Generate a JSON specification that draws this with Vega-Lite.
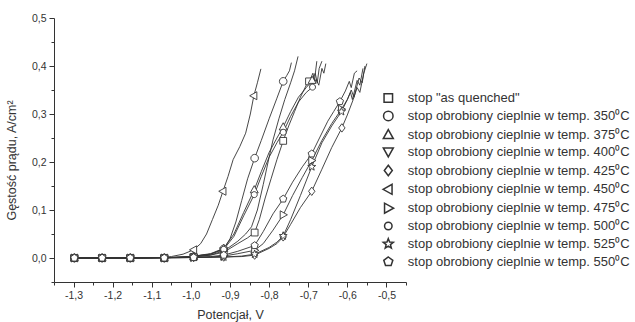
{
  "$schema": "https://vega.github.io/schema/vega-lite/v6.json",
  "width": 352,
  "height": 264,
  "autosize": {"type": "none"},
  "padding": {"left": 54, "top": 18, "right": 229, "bottom": 40},
  "config": {
    "view": {"stroke": null},
    "font": "Liberation Sans",
    "axis": {"grid": false, "domainColor": "#333", "tickColor": "#333", "labelColor": "#333", "titleColor": "#333", "labelFont": "Liberation Sans", "titleFont": "Liberation Sans", "titleFontWeight": "normal", "domainWidth": 1, "tickWidth": 1}
  },
  "datasets": {
    "curves": [
      {"s":"q","x":-1.305,"y":0},{"s":"q","x":-1.15,"y":0},{"s":"q","x":-1.05,"y":0.001},{"s":"q","x":-1.0,"y":0.002},{"s":"q","x":-0.95,"y":0.006},{"s":"q","x":-0.916,"y":0.012},{"s":"q","x":-0.88,"y":0.03},{"s":"q","x":-0.855,"y":0.042},{"s":"q","x":-0.837,"y":0.053},{"s":"q","x":-0.825,"y":0.08},{"s":"q","x":-0.81,"y":0.125},{"s":"q","x":-0.795,"y":0.165},{"s":"q","x":-0.78,"y":0.205},{"s":"q","x":-0.764,"y":0.244},{"s":"q","x":-0.75,"y":0.275},{"s":"q","x":-0.735,"y":0.305},{"s":"q","x":-0.72,"y":0.335},{"s":"q","x":-0.705,"y":0.36},{"s":"q","x":-0.695,"y":0.372},{"s":"q","x":-0.688,"y":0.385},{"s":"q","x":-0.684,"y":0.37},{"s":"q","x":-0.678,"y":0.41},
      {"s":"350","x":-1.305,"y":0},{"s":"350","x":-1.15,"y":0},{"s":"350","x":-1.05,"y":0.001},{"s":"350","x":-1.0,"y":0.003},{"s":"350","x":-0.95,"y":0.008},{"s":"350","x":-0.916,"y":0.019},{"s":"350","x":-0.9,"y":0.04},{"s":"350","x":-0.885,"y":0.075},{"s":"350","x":-0.87,"y":0.12},{"s":"350","x":-0.855,"y":0.165},{"s":"350","x":-0.837,"y":0.208},{"s":"350","x":-0.82,"y":0.245},{"s":"350","x":-0.8,"y":0.29},{"s":"350","x":-0.78,"y":0.333},{"s":"350","x":-0.764,"y":0.368},{"s":"350","x":-0.755,"y":0.38},{"s":"350","x":-0.748,"y":0.39},{"s":"350","x":-0.743,"y":0.407},
      {"s":"375","x":-1.305,"y":0},{"s":"375","x":-1.15,"y":0},{"s":"375","x":-1.05,"y":0.001},{"s":"375","x":-1.0,"y":0.003},{"s":"375","x":-0.95,"y":0.009},{"s":"375","x":-0.916,"y":0.02},{"s":"375","x":-0.89,"y":0.05},{"s":"375","x":-0.865,"y":0.095},{"s":"375","x":-0.838,"y":0.142},{"s":"375","x":-0.82,"y":0.18},{"s":"375","x":-0.8,"y":0.22},{"s":"375","x":-0.78,"y":0.25},{"s":"375","x":-0.764,"y":0.273},{"s":"375","x":-0.745,"y":0.305},{"s":"375","x":-0.725,"y":0.335},{"s":"375","x":-0.705,"y":0.355},{"s":"375","x":-0.69,"y":0.37},{"s":"375","x":-0.682,"y":0.385},{"s":"375","x":-0.677,"y":0.365},{"s":"375","x":-0.672,"y":0.395},{"s":"375","x":-0.665,"y":0.41},
      {"s":"400","x":-1.305,"y":0},{"s":"400","x":-1.15,"y":0},{"s":"400","x":-1.05,"y":0.001},{"s":"400","x":-1.0,"y":0.002},{"s":"400","x":-0.95,"y":0.006},{"s":"400","x":-0.913,"y":0.016},{"s":"400","x":-0.88,"y":0.035},{"s":"400","x":-0.86,"y":0.05},{"s":"400","x":-0.845,"y":0.065},{"s":"400","x":-0.83,"y":0.1},{"s":"400","x":-0.815,"y":0.153},{"s":"400","x":-0.8,"y":0.21},{"s":"400","x":-0.79,"y":0.246},{"s":"400","x":-0.775,"y":0.29},{"s":"400","x":-0.76,"y":0.33},{"s":"400","x":-0.745,"y":0.365},{"s":"400","x":-0.735,"y":0.39},{"s":"400","x":-0.726,"y":0.42},
      {"s":"425","x":-1.305,"y":0},{"s":"425","x":-1.15,"y":0},{"s":"425","x":-1.0,"y":0.001},{"s":"425","x":-0.916,"y":0.002},{"s":"425","x":-0.87,"y":0.003},{"s":"425","x":-0.837,"y":0.006},{"s":"425","x":-0.8,"y":0.02},{"s":"425","x":-0.78,"y":0.03},{"s":"425","x":-0.764,"y":0.044},{"s":"425","x":-0.745,"y":0.07},{"s":"425","x":-0.72,"y":0.105},{"s":"425","x":-0.691,"y":0.139},{"s":"425","x":-0.665,"y":0.185},{"s":"425","x":-0.64,"y":0.23},{"s":"425","x":-0.614,"y":0.271},{"s":"425","x":-0.6,"y":0.298},{"s":"425","x":-0.585,"y":0.33},{"s":"425","x":-0.575,"y":0.355},{"s":"425","x":-0.568,"y":0.345},{"s":"425","x":-0.558,"y":0.385},{"s":"425","x":-0.55,"y":0.405},
      {"s":"450","x":-1.305,"y":0},{"s":"450","x":-1.15,"y":0},{"s":"450","x":-1.08,"y":0.001},{"s":"450","x":-1.05,"y":0.003},{"s":"450","x":-1.02,"y":0.008},{"s":"450","x":-0.993,"y":0.017},{"s":"450","x":-0.975,"y":0.03},{"s":"450","x":-0.96,"y":0.05},{"s":"450","x":-0.945,"y":0.08},{"s":"450","x":-0.93,"y":0.11},{"s":"450","x":-0.918,"y":0.139},{"s":"450","x":-0.905,"y":0.17},{"s":"450","x":-0.892,"y":0.205},{"s":"450","x":-0.875,"y":0.232},{"s":"450","x":-0.86,"y":0.26},{"s":"450","x":-0.848,"y":0.3},{"s":"450","x":-0.839,"y":0.338},{"s":"450","x":-0.83,"y":0.365},{"s":"450","x":-0.821,"y":0.394},
      {"s":"475","x":-1.305,"y":0},{"s":"475","x":-1.15,"y":0},{"s":"475","x":-1.0,"y":0.001},{"s":"475","x":-0.95,"y":0.002},{"s":"475","x":-0.916,"y":0.004},{"s":"475","x":-0.88,"y":0.009},{"s":"475","x":-0.837,"y":0.016},{"s":"475","x":-0.815,"y":0.03},{"s":"475","x":-0.79,"y":0.058},{"s":"475","x":-0.764,"y":0.09},{"s":"475","x":-0.74,"y":0.13},{"s":"475","x":-0.715,"y":0.168},{"s":"475","x":-0.691,"y":0.203},{"s":"475","x":-0.665,"y":0.245},{"s":"475","x":-0.64,"y":0.28},{"s":"475","x":-0.615,"y":0.31},{"s":"475","x":-0.6,"y":0.33},{"s":"475","x":-0.592,"y":0.345},{"s":"475","x":-0.587,"y":0.33},{"s":"475","x":-0.575,"y":0.37},{"s":"475","x":-0.568,"y":0.36},{"s":"475","x":-0.56,"y":0.395},
      {"s":"500","x":-1.305,"y":0},{"s":"500","x":-1.15,"y":0},{"s":"500","x":-1.05,"y":0.001},{"s":"500","x":-1.0,"y":0.003},{"s":"500","x":-0.95,"y":0.008},{"s":"500","x":-0.916,"y":0.018},{"s":"500","x":-0.89,"y":0.045},{"s":"500","x":-0.865,"y":0.088},{"s":"500","x":-0.838,"y":0.132},{"s":"500","x":-0.82,"y":0.17},{"s":"500","x":-0.8,"y":0.21},{"s":"500","x":-0.78,"y":0.24},{"s":"500","x":-0.764,"y":0.262},{"s":"500","x":-0.745,"y":0.295},{"s":"500","x":-0.725,"y":0.325},{"s":"500","x":-0.705,"y":0.345},{"s":"500","x":-0.689,"y":0.356},{"s":"500","x":-0.68,"y":0.372},{"s":"500","x":-0.673,"y":0.36},{"s":"500","x":-0.665,"y":0.395},{"s":"500","x":-0.66,"y":0.385},{"s":"500","x":-0.655,"y":0.405},
      {"s":"525","x":-1.305,"y":0},{"s":"525","x":-1.15,"y":0},{"s":"525","x":-1.0,"y":0.001},{"s":"525","x":-0.916,"y":0.002},{"s":"525","x":-0.87,"y":0.004},{"s":"525","x":-0.837,"y":0.008},{"s":"525","x":-0.8,"y":0.022},{"s":"525","x":-0.78,"y":0.033},{"s":"525","x":-0.764,"y":0.046},{"s":"525","x":-0.745,"y":0.08},{"s":"525","x":-0.72,"y":0.13},{"s":"525","x":-0.691,"y":0.19},{"s":"525","x":-0.665,"y":0.24},{"s":"525","x":-0.64,"y":0.275},{"s":"525","x":-0.615,"y":0.305},{"s":"525","x":-0.6,"y":0.33},{"s":"525","x":-0.59,"y":0.35},{"s":"525","x":-0.583,"y":0.335},{"s":"525","x":-0.57,"y":0.375},{"s":"525","x":-0.562,"y":0.365},{"s":"525","x":-0.555,"y":0.4},
      {"s":"550","x":-1.305,"y":0},{"s":"550","x":-1.15,"y":0},{"s":"550","x":-1.0,"y":0.001},{"s":"550","x":-0.95,"y":0.003},{"s":"550","x":-0.916,"y":0.006},{"s":"550","x":-0.88,"y":0.014},{"s":"550","x":-0.837,"y":0.026},{"s":"550","x":-0.815,"y":0.055},{"s":"550","x":-0.79,"y":0.092},{"s":"550","x":-0.764,"y":0.123},{"s":"550","x":-0.74,"y":0.158},{"s":"550","x":-0.715,"y":0.19},{"s":"550","x":-0.691,"y":0.217},{"s":"550","x":-0.67,"y":0.252},{"s":"550","x":-0.65,"y":0.285},{"s":"550","x":-0.635,"y":0.305},{"s":"550","x":-0.619,"y":0.326},{"s":"550","x":-0.605,"y":0.348},{"s":"550","x":-0.595,"y":0.368},{"s":"550","x":-0.59,"y":0.355},{"s":"550","x":-0.582,"y":0.385},{"s":"550","x":-0.575,"y":0.39}
    ],
    "markers": [
      {"s":"q","x":-1.298,"y":0},{"s":"q","x":-1.227,"y":0},{"s":"q","x":-1.155,"y":0},{"s":"q","x":-1.068,"y":0},{"s":"q","x":-0.993,"y":0.002},{"s":"q","x":-0.916,"y":0.012},{"s":"q","x":-0.837,"y":0.053},{"s":"q","x":-0.764,"y":0.244},{"s":"q","x":-0.698,"y":0.368},
      {"s":"350","x":-1.298,"y":0},{"s":"350","x":-1.227,"y":0},{"s":"350","x":-1.155,"y":0},{"s":"350","x":-1.068,"y":0},{"s":"350","x":-0.993,"y":0.003},{"s":"350","x":-0.916,"y":0.019},{"s":"350","x":-0.837,"y":0.208},{"s":"350","x":-0.764,"y":0.368},
      {"s":"375","x":-1.298,"y":0},{"s":"375","x":-1.227,"y":0},{"s":"375","x":-1.155,"y":0},{"s":"375","x":-1.068,"y":0},{"s":"375","x":-0.993,"y":0.003},{"s":"375","x":-0.916,"y":0.02},{"s":"375","x":-0.838,"y":0.142},{"s":"375","x":-0.764,"y":0.273},{"s":"375","x":-0.69,"y":0.37},
      {"s":"400","x":-1.298,"y":0},{"s":"400","x":-1.227,"y":0},{"s":"400","x":-1.155,"y":0},{"s":"400","x":-1.068,"y":0},{"s":"400","x":-0.993,"y":0.002},{"s":"400","x":-0.916,"y":0.015},
      {"s":"425","x":-1.298,"y":0},{"s":"425","x":-1.227,"y":0},{"s":"425","x":-1.155,"y":0},{"s":"425","x":-1.068,"y":0},{"s":"425","x":-0.993,"y":0.001},{"s":"425","x":-0.916,"y":0.002},{"s":"425","x":-0.837,"y":0.006},{"s":"425","x":-0.764,"y":0.044},{"s":"425","x":-0.691,"y":0.139},{"s":"425","x":-0.614,"y":0.271},
      {"s":"450","x":-1.298,"y":0},{"s":"450","x":-1.227,"y":0},{"s":"450","x":-1.155,"y":0},{"s":"450","x":-1.068,"y":0},{"s":"450","x":-0.993,"y":0.017},{"s":"450","x":-0.918,"y":0.139},{"s":"450","x":-0.839,"y":0.338},
      {"s":"475","x":-1.298,"y":0},{"s":"475","x":-1.227,"y":0},{"s":"475","x":-1.155,"y":0},{"s":"475","x":-1.068,"y":0},{"s":"475","x":-0.993,"y":0.001},{"s":"475","x":-0.916,"y":0.004},{"s":"475","x":-0.837,"y":0.016},{"s":"475","x":-0.764,"y":0.09},{"s":"475","x":-0.691,"y":0.203},{"s":"475","x":-0.615,"y":0.31},
      {"s":"500","x":-1.298,"y":0},{"s":"500","x":-1.227,"y":0},{"s":"500","x":-1.155,"y":0},{"s":"500","x":-1.068,"y":0},{"s":"500","x":-0.993,"y":0.003},{"s":"500","x":-0.916,"y":0.018},{"s":"500","x":-0.838,"y":0.132},{"s":"500","x":-0.764,"y":0.262},{"s":"500","x":-0.689,"y":0.356},
      {"s":"525","x":-1.298,"y":0},{"s":"525","x":-1.227,"y":0},{"s":"525","x":-1.155,"y":0},{"s":"525","x":-1.068,"y":0},{"s":"525","x":-0.993,"y":0.001},{"s":"525","x":-0.916,"y":0.002},{"s":"525","x":-0.837,"y":0.008},{"s":"525","x":-0.764,"y":0.046},{"s":"525","x":-0.691,"y":0.19},{"s":"525","x":-0.615,"y":0.305},
      {"s":"550","x":-1.298,"y":0},{"s":"550","x":-1.227,"y":0},{"s":"550","x":-1.155,"y":0},{"s":"550","x":-1.068,"y":0},{"s":"550","x":-0.993,"y":0.001},{"s":"550","x":-0.916,"y":0.006},{"s":"550","x":-0.837,"y":0.026},{"s":"550","x":-0.764,"y":0.123},{"s":"550","x":-0.691,"y":0.217},{"s":"550","x":-0.619,"y":0.326}
    ]
  },
  "layer": [
    {
      "data": {"name": "curves"},
      "mark": {"type": "line", "color": "#333", "strokeWidth": 0.9},
      "encoding": {
        "x": {"field": "x", "type": "quantitative", "scale": {"domain": [-1.35, -0.45], "nice": false, "zero": false},
              "axis": {"orient": "bottom", "values": [-1.35, -1.25, -1.15, -1.05, -0.95, -0.85, -0.75, -0.65, -0.55, -0.45], "labels": false, "title": null, "tickSize": 3, "domain": false}},
        "y": {"field": "y", "type": "quantitative", "scale": {"domain": [-0.05, 0.5], "nice": false, "zero": false},
              "axis": {"orient": "left", "values": [-0.05, 0.05, 0.15, 0.25, 0.35, 0.45], "labels": false, "title": null, "tickSize": 3, "domain": false}},
        "detail": {"field": "s", "type": "nominal"}
      }
    },
    {
      "data": {"name": "markers"},
      "mark": {"type": "point", "filled": true, "fill": "white", "stroke": "#333", "strokeWidth": 0.9, "size": 64, "opacity": 1},
      "encoding": {
        "x": {"field": "x", "type": "quantitative",
              "axis": {"orient": "bottom", "values": [-1.3, -1.2, -1.1, -1.0, -0.9, -0.8, -0.7, -0.6, -0.5], "labelExpr": "(datum.value < 0 ? '-' : '') + replace(format(abs(datum.value), '.1f'), '.', ',')", "tickSize": 5, "labelFontSize": 10.5, "labelPadding": 3, "title": "Potencjał, V", "titleFontSize": 12.5, "titlePadding": 8}},
        "y": {"field": "y", "type": "quantitative",
              "axis": {"orient": "left", "values": [0, 0.1, 0.2, 0.3, 0.4, 0.5], "labelExpr": "replace(format(datum.value, '.1f'), '.', ',')", "tickSize": 5, "labelFontSize": 10.5, "labelPadding": 3, "title": "Gęstość prądu, A/cm²", "titleFontSize": 12.5, "titlePadding": 13, "titleY": 142}},
        "shape": {
          "field": "s", "type": "nominal",
          "scale": {
            "domain": ["q", "350", "375", "400", "425", "450", "475", "500", "525", "550"],
            "range": [
              "M-0.85,-0.85H0.85V0.85H-0.85Z",
              "M-0.95,0A0.95,0.95 0 1,0 0.95,0A0.95,0.95 0 1,0 -0.95,0Z",
              "M0,-1.05L1,0.75L-1,0.75Z",
              "M0,1.05L1,-0.75L-1,-0.75Z",
              "M0,-1.05L0.8,0L0,1.05L-0.8,0Z",
              "M-1.05,0L0.75,-1L0.75,1Z",
              "M1.05,0L-0.75,-1L-0.75,1Z",
              "M-0.75,0A0.75,0.75 0 1,0 0.75,0A0.75,0.75 0 1,0 -0.75,0Z",
              "M0,-1.05L0.265,-0.364L0.999,-0.325L0.428,0.139L0.617,0.85L0,0.45L-0.617,0.85L-0.428,0.139L-0.999,-0.325L-0.265,-0.364Z",
              "M0,-0.95L0.904,-0.294L0.558,0.769L-0.558,0.769L-0.904,-0.294Z"
            ]
          },
          "legend": {
            "orient": "none", "legendX": 327.8, "legendY": 73.6, "title": null,
            "labelOffset": 13, "rowPadding": 1.85,
            "labelFontSize": 13, "labelColor": "#333", "labelFont": "Liberation Sans", "labelLimit": 400,
            "labelExpr": "datum.value == 'q' ? 'stop \"as quenched\"' : 'stop obrobiony cieplnie w temp. ' + datum.value + '⁰C'",
            "encode": {"symbols": {
              "strokeWidth": {"value": 0.9}
            }}
          }
        }
      }
    }
  ],
  "resolve": {"axis": {"x": "independent", "y": "independent"}}
}
